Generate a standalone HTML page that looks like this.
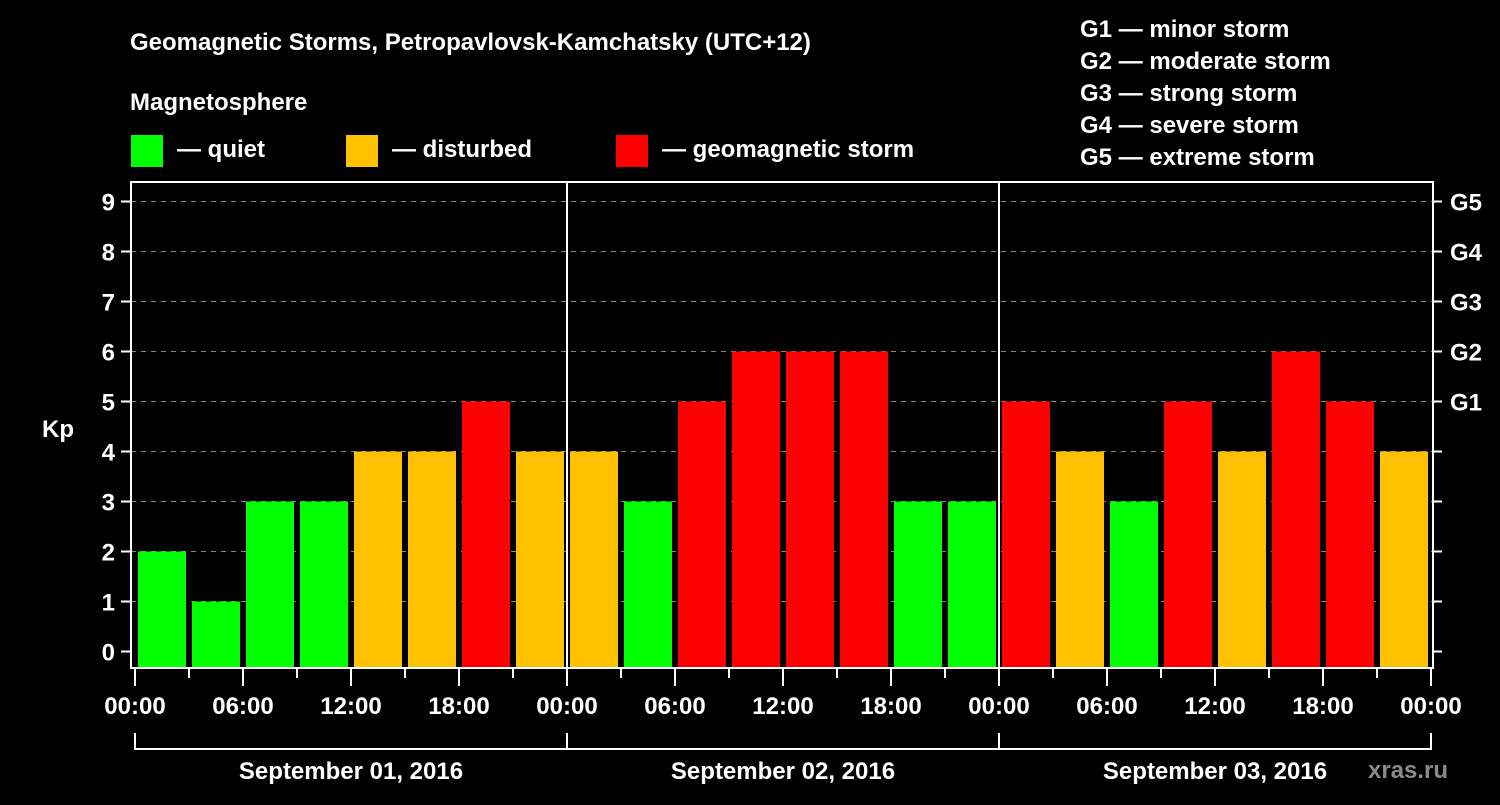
<!DOCTYPE html>
<html><head><meta charset="utf-8"><style>
body{margin:0;background:#000;width:1500px;height:800px;overflow:hidden;}
svg text{font-family:"Liberation Sans",Arial,sans-serif;font-weight:bold;fill:#fff;}
</style></head><body>
<svg id="c" width="1500" height="800" xmlns="http://www.w3.org/2000/svg">
<rect width="1500" height="800" fill="#000"/>
<text x="130" y="50" font-size="24">Geomagnetic Storms, Petropavlovsk-Kamchatsky (UTC+12)</text>
<text x="130" y="110" font-size="24">Magnetosphere</text>
<g><rect x="131" y="135" width="32" height="32" fill="#00ff00"/><text x="177" y="157" font-size="24">— quiet</text></g>
<g><rect x="346" y="135" width="32" height="32" fill="#ffc000"/><text x="392" y="157" font-size="24">— disturbed</text></g>
<g><rect x="616" y="135" width="32" height="32" fill="#ff0000"/><text x="662" y="157" font-size="24">— geomagnetic storm</text></g>
<g font-size="24">
<text x="1080" y="37">G1 — minor storm</text>
<text x="1080" y="69">G2 — moderate storm</text>
<text x="1080" y="101">G3 — strong storm</text>
<text x="1080" y="133">G4 — severe storm</text>
<text x="1080" y="165">G5 — extreme storm</text>
</g>
<text x="42" y="437" font-size="24">Kp</text>
<text x="1368" y="778" font-size="24" fill="#888" style="fill:#8a8a8a">xras.ru</text>
<g id="g"></g>
</svg>
<script>
const kpValues=[2,1,3,3,4,4,5,4, 4,3,5,6,6,6,3,3, 5,4,3,5,4,6,5,4];
const yTicks=[0,1,2,3,4,5,6,7,8,9];
const gLabels=["G1","G2","G3","G4","G5"];
const gLevels=[5,6,7,8,9];
const timeLabels=["00:00","06:00","12:00","18:00"];
const dayLabels=["September 01, 2016","September 02, 2016","September 03, 2016"];
const NS="http://www.w3.org/2000/svg";
const g=document.getElementById('g');
const X0=135,SLOT=54,TOP=182,BOT=668;
const x=i=>X0+SLOT*i;
const y=v=>651.5-50*v;
function mk(t,a,p){const e=document.createElementNS(NS,t);for(const k in a)e.setAttribute(k,a[k]);(p||g).appendChild(e);return e;}
function col(v){return v>=5?'#ff0000':v>=4?'#ffc000':'#00ff00';}
yTicks.forEach(v=>{
  if(v>0){const l=mk('line',{x1:131,x2:1433,y1:y(v),y2:y(v),stroke:'#888','stroke-width':1,'stroke-dasharray':'5,5'});
  
  }
  const t=mk('line',{x1:121,x2:131,y1:y(v),y2:y(v),stroke:'#fff','stroke-width':2});
  
  
  const r=mk('line',{x1:1433,x2:1442,y1:y(v),y2:y(v),stroke:'#fff','stroke-width':2});
  
  
  const tx=mk('text',{x:115,y:y(v)+9,'font-size':24,'text-anchor':'end'});tx.textContent=v;
  
  
});
gLabels.forEach((s,i)=>{
  const tx=mk('text',{x:1450,y:y(gLevels[i])+9,'font-size':24});tx.textContent=s;
  
  
});
kpValues.forEach((v,i)=>{
  const r=mk('rect',{x:x(i)+3,y:y(v),width:48,height:BOT-y(v),fill:col(v)});
  
  
});
const f=mk('rect',{x:131,y:TOP,width:1302,height:BOT-TOP,fill:'none',stroke:'#fff','stroke-width':2});


for(let d=1;d<3;d++){
  const l=mk('line',{x1:x(d*8),x2:x(d*8),y1:TOP,y2:BOT,stroke:'#fff','stroke-width':2});
  
  
}
for(let i=0;i<=24;i++){
  const major=i%2===0;
  const t=mk('line',{x1:x(i),x2:x(i),y1:BOT,y2:major?686:678,stroke:'#fff','stroke-width':2});
  
  
  if(major){
    const tx=mk('text',{x:x(i),y:714,'font-size':24,'text-anchor':'middle'});
    tx.textContent=timeLabels[(i/2)%4];
    
    
  }
}
dayLabels.forEach((s,d)=>{
  const a=x(d*8),b=x(d*8+8);
  const p=mk('path',{d:`M${a},733V749H${b}V733`,fill:'none',stroke:'#fff','stroke-width':2});
  
  
  const tx=mk('text',{x:(a+b)/2,y:779,'font-size':24,'text-anchor':'middle'});tx.textContent=s;
  
  
});
</script>
</body></html>
